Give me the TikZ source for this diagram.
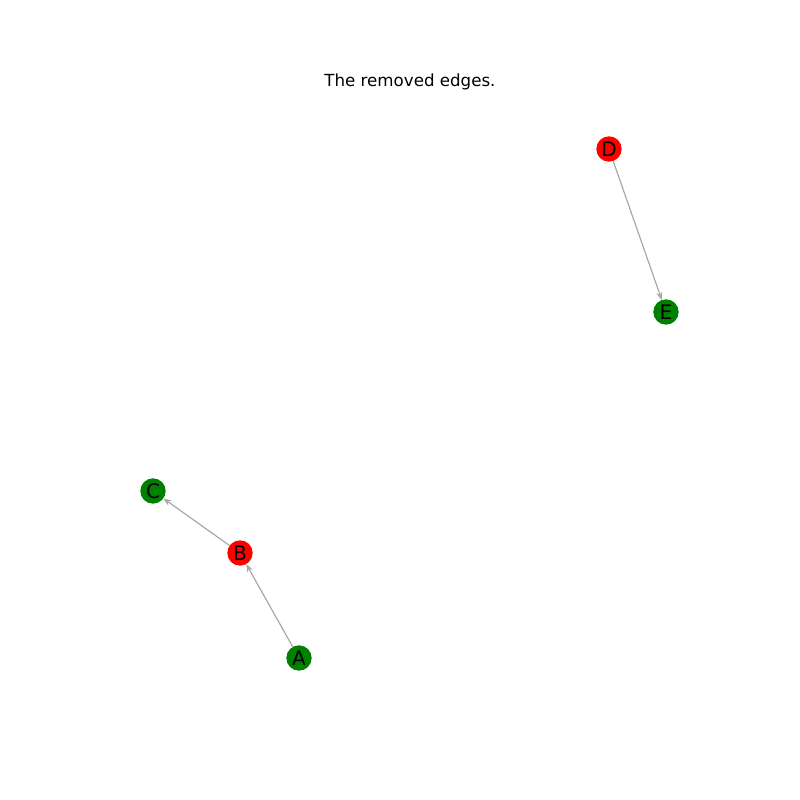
\documentclass[tikz,border=0pt]{standalone}
\usepackage{fontspec}
\setmainfont{DejaVu Sans}
\usetikzlibrary{arrows.meta}
\definecolor{nxgreen}{HTML}{008000}
\definecolor{nxred}{HTML}{FF0000}
\definecolor{edgegray}{HTML}{A8A8A8}
\begin{document}
\begin{tikzpicture}[x=0.75pt,y=-0.75pt,
  vnode/.style={circle,minimum size=19pt,inner sep=0pt,outer sep=0pt,font=\fontsize{15}{17}\selectfont},
  gnode/.style={vnode,fill=nxgreen},
  rnode/.style={vnode,fill=nxred},
  edge/.style={draw=edgegray,line width=0.9pt,-{Stealth[length=6pt,width=4.5pt]}}]
\useasboundingbox (0,0) rectangle (800,800);
\node[font=\fontsize{12.5}{14}\selectfont] (title) at (410,82) {The removed edges.};
\node[rnode] (D) at (609,149) {D};
\node[gnode] (E) at (666,312) {E};
\node[gnode] (C) at (153,491) {C};
\node[rnode] (B) at (240,553) {B};
\node[gnode] (A) at (299,658) {A};
\draw[edge] (D) -- (E);
\draw[edge] (B) -- (C);
\draw[edge] (A) -- (B);
\end{tikzpicture}
\end{document}
